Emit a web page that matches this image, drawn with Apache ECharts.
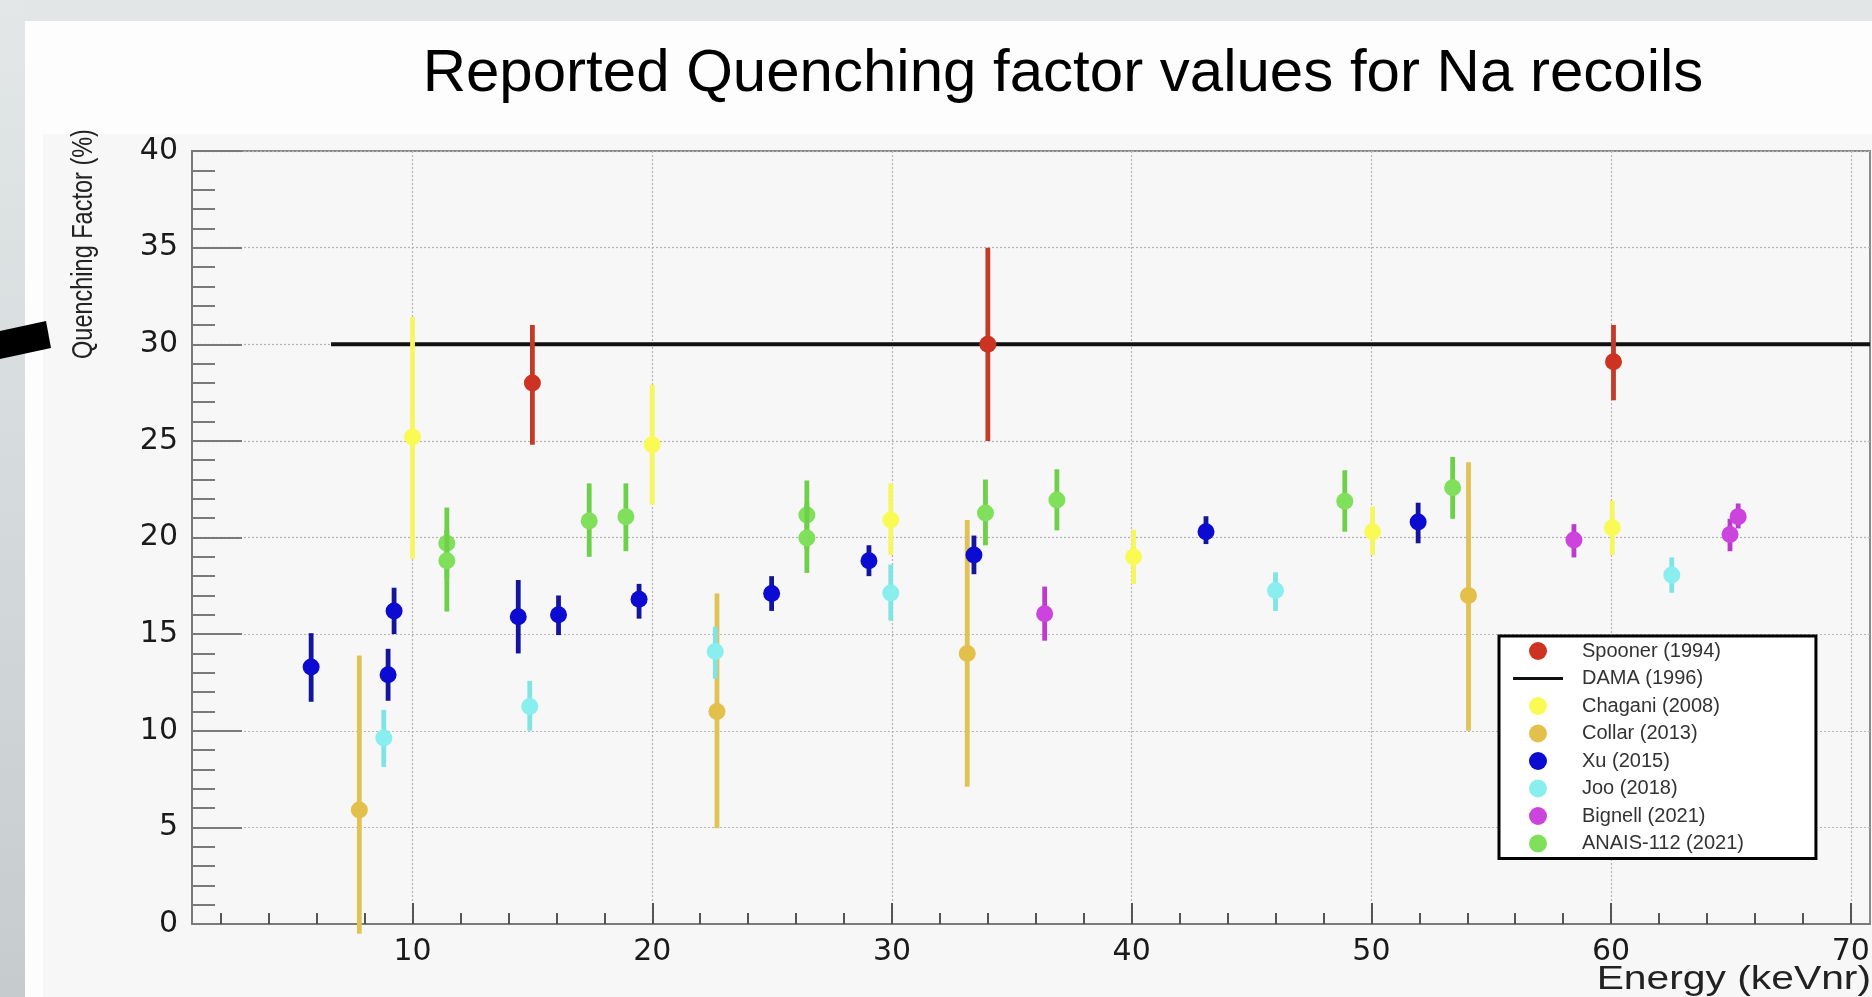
<!DOCTYPE html>
<html><head><meta charset="utf-8">
<script src="https://cdn.jsdelivr.net/npm/echarts@6/dist/echarts.min.js"></script>
<style>html,body{margin:0;padding:0;background:#fdfdfd;overflow:hidden}#chart{width:1872px;height:997px}</style>
</head><body><div id="chart"></div>
<script>
// ---------- texts ----------
const titleText = 'Reported Quenching factor values for Na recoils';
const xName = 'Energy (keVnr)';
const yName = 'Quenching Factor (%)';
const legendNames = ['Spooner (1994)', 'DAMA (1996)', 'Chagani (2008)', 'Collar (2013)', 'Xu (2015)', 'Joo (2018)', 'Bignell (2021)', 'ANAIS-112 (2021)'];
// ---------- axes ----------
const xMin = 0.8, xMax = 70.8;
const xMajorTicks = [10, 20, 30, 40, 50, 60, 70];
const xMinorTicks = [2, 4, 6, 8, 12, 14, 16, 18, 22, 24, 26, 28, 32, 34, 36, 38, 42, 44, 46, 48, 52, 54, 56, 58, 62, 64, 66, 68];
const yMin = 0, yMax = 40, yStep = 5;
// ---------- data: energy, quenching factor, lower and upper error bar ends ----------
const spoonerE  = [15.0, 34.0, 60.1];
const spoonerQF = [28.0, 30.0, 29.1];
const spoonerLo = [24.8, 25.0, 27.1];
const spoonerHi = [31.0, 35.0, 31.0];

const damaE  = [6.6, 70.8];
const damaQF = [30, 30];

const chaganiE  = [10.0, 20.0, 29.95, 40.08, 50.05, 60.05];
const chaganiQF = [25.2, 24.8, 20.9, 19.0, 20.3, 20.5];
const chaganiLo = [18.9, 21.7, 19.1, 17.6, 19.1, 19.1];
const chaganiHi = [31.4, 27.9, 22.8, 20.4, 21.6, 21.9];

const collarE  = [7.78, 22.7, 33.14, 54.05];
const collarQF = [5.9, 11.0, 14.0, 17.0];
const collarLo = [-0.5, 4.95, 7.1, 10.0];
const collarHi = [13.9, 17.1, 20.9, 23.9];

const xuE  = [5.77, 8.98, 9.23, 14.41, 16.09, 19.45, 24.98, 29.04, 33.42, 43.1, 51.95];
const xuQF = [13.3, 12.9, 16.2, 15.9, 16.0, 16.8, 17.1, 18.8, 19.1, 20.3, 20.8];
const xuLo = [11.5, 11.55, 15.0, 14.0, 14.95, 15.8, 16.2, 18.0, 18.1, 19.66, 19.7];
const xuHi = [15.05, 14.24, 17.4, 17.8, 17.0, 17.6, 18.0, 19.6, 20.1, 21.1, 21.8];

const jooE  = [8.8, 14.89, 22.63, 29.95, 46.0, 62.53];
const jooQF = [9.63, 11.25, 14.1, 17.13, 17.26, 18.06];
const jooLo = [8.13, 10.0, 12.7, 15.7, 16.2, 17.14];
const jooHi = [11.08, 12.58, 15.38, 18.6, 18.2, 18.97];

const bignellE  = [36.37, 58.45, 64.96, 65.3];
const bignellQF = [16.06, 19.87, 20.15, 21.08];
const bignellLo = [14.66, 18.97, 19.29, 20.47];
const bignellHi = [17.46, 20.69, 20.97, 21.76];

const anaisE  = [11.43, 11.43, 17.37, 18.9, 26.45, 26.45, 33.9, 36.88, 48.89, 53.39];
const anaisQF = [19.7, 18.8, 20.86, 21.08, 21.16, 19.98, 21.27, 21.94, 21.87, 22.58];
const anaisLo = [17.9, 16.17, 19.0, 19.29, 19.4, 18.17, 19.6, 20.37, 20.3, 20.97];
const anaisHi = [21.55, 20.4, 22.8, 22.8, 22.95, 21.8, 23.0, 23.53, 23.48, 24.17];

// ---------- styles ----------
const colors = {
  spooner: ['#cc3322', '#c23a2a'],
  chagani: ['#fafa55', '#f6f660'],
  collar:  ['#e2c04a', '#e0c255'],
  xu:      ['#0b0bd2', '#15159c'],
  joo:     ['#88eeee', '#80e4e4'],
  bignell: ['#cc44dd', '#bb3ccb'],
  anais:   ['#80e05c', '#6ed04a']
};

function rows(e, q, lo, hi) { return e.map((v, i) => [v, q[i], lo[i], hi[i]]); }

function errSeries(name, data, col) {
  return {
    type: 'custom', name: name, data: data, z: 3, clip: false,
    itemStyle: { color: col[0] },
    encode: { x: 0, y: 1 },
    renderItem: function (params, api) {
      const x = api.value(0), y = api.value(1), lo = api.value(2), hi = api.value(3);
      const a = api.coord([x, lo]), b = api.coord([x, hi]), p = api.coord([x, y]);
      return { type: 'group', children: [
        { type: 'line', shape: { x1: a[0], y1: a[1], x2: b[0], y2: b[1] }, style: { stroke: col[1], lineWidth: 4.8 } },
        { type: 'circle', shape: { cx: p[0], cy: p[1], r: 8.5 }, style: { fill: col[0] } }
      ]};
    }
  };
}

const chart = echarts.init(document.getElementById('chart'), null, { renderer: 'canvas' });

const axisGray = '#7a7a7a';
const gridLine = { show: true, lineStyle: { color: '#b4b4b4', width: 1.2, type: [2, 2] } };

const option = {
  backgroundColor: '#fdfdfd',
  animation: false,
  grid: { left: 192, top: 151, width: 1678, height: 773, show: true, borderColor: '#8a8a8a', borderWidth: 2,
          backgroundColor: 'transparent', outerBoundsMode: 'none', containLabel: false },
  xAxis: [
    { type: 'value', min: xMin, max: xMax, position: 'bottom',
      axisLine: { show: true, onZero: false, lineStyle: { color: axisGray, width: 2 } },
      axisTick: { show: true, inside: true, length: 21, customValues: xMajorTicks, lineStyle: { color: '#555', width: 2 } },
      axisLabel: { show: true, customValues: xMajorTicks, margin: 13, hideOverlap: false,
                   fontFamily: 'DejaVu Sans', fontSize: 30, color: '#1a1a1a' },
      splitLine: gridLine },
    { type: 'value', min: xMin, max: xMax, position: 'bottom',
      axisLine: { show: false },
      axisTick: { show: true, inside: true, length: 11, customValues: xMinorTicks, lineStyle: { color: '#555', width: 2 } },
      axisLabel: { show: false }, splitLine: { show: false } }
  ],
  yAxis: {
    type: 'value', min: yMin, max: yMax, interval: yStep,
    axisLine: { show: true, lineStyle: { color: axisGray, width: 2 } },
    axisTick: { show: true, inside: true, length: 50, lineStyle: { color: axisGray, width: 2 } },
    minorTick: { show: true, splitNumber: 5, length: 23, lineStyle: { color: axisGray, width: 2 } },
    axisLabel: { margin: 14, fontFamily: 'DejaVu Sans', fontSize: 30, color: '#1a1a1a' },
    splitLine: gridLine
  },
  legend: {
    orient: 'vertical', left: 1499, top: 636, padding: [5, 72, 5, 14],
    itemGap: 7.5, itemWidth: 50, itemHeight: 18, symbolKeepAspect: true,
    backgroundColor: '#ffffff', borderColor: '#000', borderWidth: 3,
    selectedMode: false,
    textStyle: { fontFamily: 'Liberation Sans', fontSize: 20, color: '#333', padding: [0, 0, 0, 14] },
    data: [
      { name: legendNames[0], icon: 'circle', itemStyle: { color: colors.spooner[0] } },
      { name: legendNames[1], icon: 'path://M0,0H100V6H0Z', itemStyle: { color: '#111' } },
      { name: legendNames[2], icon: 'circle', itemStyle: { color: colors.chagani[0] } },
      { name: legendNames[3], icon: 'circle', itemStyle: { color: colors.collar[0] } },
      { name: legendNames[4], icon: 'circle', itemStyle: { color: colors.xu[0] } },
      { name: legendNames[5], icon: 'circle', itemStyle: { color: colors.joo[0] } },
      { name: legendNames[6], icon: 'circle', itemStyle: { color: colors.bignell[0] } },
      { name: legendNames[7], icon: 'circle', itemStyle: { color: colors.anais[0] } }
    ]
  },
  graphic: [
    { type: 'rect', z: -10, silent: true, shape: { x: 0, y: 0, width: 1872, height: 21 }, style: { fill: '#e2e6e7' } },
    { type: 'rect', z: -10, silent: true, shape: { x: 0, y: 0, width: 25, height: 997 },
      style: { fill: new echarts.graphic.LinearGradient(0, 0, 0, 1, [{ offset: 0, color: '#e3e7e8' }, { offset: 1, color: '#c6ccce' }]) } },
    { type: 'rect', z: -10, silent: true, shape: { x: 43, y: 134, width: 1829, height: 863 }, style: { fill: '#f7f7f7' } },
    { type: 'polygon', z: 10, silent: true, shape: { points: [[0, 331], [46, 321], [51, 348], [0, 359]] }, style: { fill: '#000' } },
    { type: 'text', z: 10, silent: true, x: 1063, y: 74, style: { text: titleText, font: '60px "Liberation Sans"', fill: '#000', align: 'center', verticalAlign: 'middle' } },
    { type: 'text', z: 10, silent: true, x: 84, y: 244, rotation: Math.PI / 2, scaleY: 1.25,
      style: { text: yName, font: '23.5px "Liberation Sans"', fill: '#222', align: 'center', verticalAlign: 'middle' } },
    { type: 'text', z: 10, silent: true, x: 1871, y: 980, scaleX: 1.2,
      style: { text: xName, font: '34px "Liberation Sans"', fill: '#222', align: 'right', verticalAlign: 'middle' } }
  ],
  series: [
    errSeries(legendNames[0], rows(spoonerE, spoonerQF, spoonerLo, spoonerHi), colors.spooner),
    { type: 'line', name: legendNames[1], data: damaE.map((v, i) => [v, damaQF[i]]), symbol: 'none', z: 2,
      lineStyle: { color: '#111', width: 4 }, itemStyle: { color: '#111' } },
    errSeries(legendNames[2], rows(chaganiE, chaganiQF, chaganiLo, chaganiHi), colors.chagani),
    errSeries(legendNames[3], rows(collarE, collarQF, collarLo, collarHi), colors.collar),
    errSeries(legendNames[4], rows(xuE, xuQF, xuLo, xuHi), colors.xu),
    errSeries(legendNames[5], rows(jooE, jooQF, jooLo, jooHi), colors.joo),
    errSeries(legendNames[6], rows(bignellE, bignellQF, bignellLo, bignellHi), colors.bignell),
    errSeries(legendNames[7], rows(anaisE, anaisQF, anaisLo, anaisHi), colors.anais)
  ]
};
chart.setOption(option);
</script></body></html>
